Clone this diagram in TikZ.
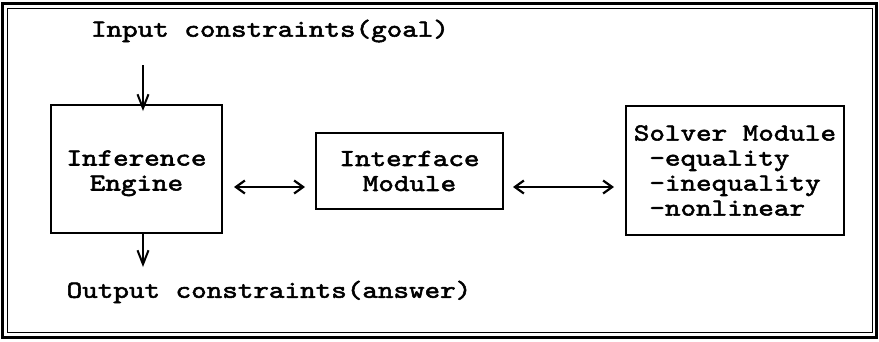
\documentclass[tikz,border=0pt]{standalone}
\usepackage{fontspec}
\usetikzlibrary{arrows.meta,calc}
% Typewriter face: Latin Modern Mono widened and thickened
\newfontfamily\typewr[FakeStretch=1.21,FakeBold=2.2]{lmmono10-regular.otf}
\newcommand{\ind}{\phantom{x}}

\tikzset{
  frame/.style={draw=black,line width=#1},
  module/.style={draw=black,line width=2pt,rectangle,inner sep=0pt,
    font=\typewr\fontsize{24.5}{25}\selectfont},
  label/.style={inner sep=0pt,font=\typewr\fontsize{24.5}{25}\selectfont},
  vflow/.style={line width=1.8pt,-{Straight Barb[length=14pt,width=11pt,line width=2pt]}},
  hflow/.style={line width=1.8pt,
    {Straight Barb[length=9pt,width=13pt,line width=2.2pt]}-{Straight Barb[length=9pt,width=13pt,line width=2.2pt]}},
}

\begin{document}
\begin{tikzpicture}[x=1pt,y=-1pt]
  \useasboundingbox (0,0) rectangle (879,341);
  \fill[white] (0,0) rectangle (879,341);

  % double outer border
  \draw[frame=2.2pt] (2.5,3.5) rectangle (876.5,337.5);
  \draw[frame=1.5pt] (7.5,8.5) rectangle (872.5,332.5);

  % modules
  \node[module,minimum width=171pt,minimum height=128pt,align=center]
    (ie) at (136.5,169) {\raisebox{-4pt}[\height][\depth]{\begin{tabular}{@{}c@{}}Inference\\Engine\end{tabular}}};
  \node[module,minimum width=187pt,minimum height=76pt,align=center]
    (if) at (409.5,171) {Interface\\Module};
  \node[module,minimum width=218pt,minimum height=129pt,align=left]
    (sm) at (735,170.5) {Solver Module\\\ind-equality\\\ind-inequality\\\ind-nonlinear};

  % goal and answer texts
  \node[label] (goal) at (270,31) {Input constraints(goal)};
  \node[label] (answer) at (269,292) {Output constraints(answer)};

  % flow in and out of the inference engine
  \coordinate (inTop) at (143,65);
  \coordinate (outEnd) at (143,267);
  \draw[vflow] (inTop) -- ([xshift=6.5pt,yshift=-7pt]ie.north);
  \draw[vflow] ([xshift=6.5pt]ie.south) -- (outEnd);

  % two-way links between modules
  \draw[hflow,shorten <=11pt,shorten >=10pt]
    ([yshift=-18pt]ie.east) -- ([yshift=-18pt]ie.east -| if.west);
  \draw[hflow,shorten <=9pt,shorten >=11pt]
    ([yshift=-16pt]if.east) -- ([yshift=-16pt]if.east -| sm.west);
\end{tikzpicture}
\end{document}
